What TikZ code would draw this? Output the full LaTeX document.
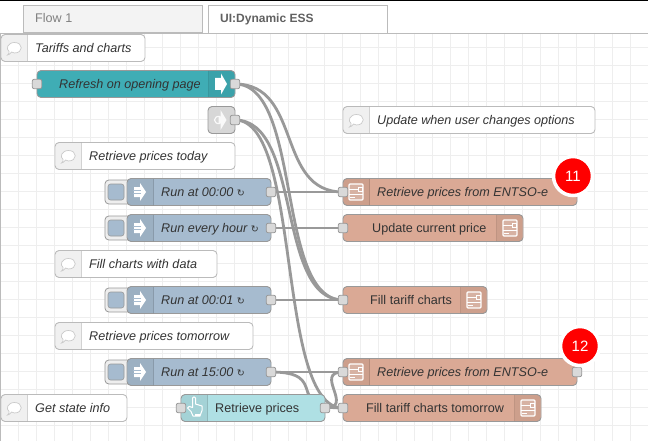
\documentclass[tikz,border=0pt]{standalone}
\usepackage{fontspec}
\setmainfont{Liberation Sans}
\newfontfamily\symfont{DejaVu Sans}
\usetikzlibrary{backgrounds,shadows}

\definecolor{gridgray}{HTML}{EEEEEE}
\definecolor{edgegray}{HTML}{BBBBBB}
\definecolor{wiregray}{HTML}{999999}
\definecolor{portgray}{HTML}{D9D9D9}
\definecolor{tealnode}{HTML}{3FADB5}
\definecolor{linknode}{HTML}{D7D7D7}
\definecolor{runnode}{HTML}{A6BBCF}
\definecolor{flownode}{HTML}{DAA995}
\definecolor{pressnode}{HTML}{AFE0E4}
\definecolor{labeltext}{HTML}{333333}

\tikzset{
    boxbase/.style={draw=#1, anchor=west, minimum height=27pt, inner sep=0pt, outer sep=0pt,
        rounded corners=4pt, line width=.9pt},
    notebox/.style={boxbase=edgegray, fill=white},
    tealbox/.style={boxbase=wiregray, fill=tealnode},
    linkbox/.style={boxbase=wiregray, fill=linknode},
    runbox/.style={boxbase=wiregray, fill=runnode},
    flowbox/.style={boxbase=wiregray, fill=flownode},
    pressbox/.style={boxbase=wiregray, fill=pressnode},
    tabbox/.style={draw=edgegray, anchor=north west, inner sep=0pt, outer sep=0pt, line width=.9pt},
    nametext/.style={anchor=west, inner sep=0pt, text=labeltext, text height=9pt, text depth=0pt,
        font=\fontsize{12.6}{14}\selectfont},
    tiptext/.style={nametext, font=\fontsize{12.6}{14}\selectfont\itshape},
    portbox/.style={draw=wiregray, fill=portgray, minimum size=9.5pt, inner sep=0pt, rounded corners=2pt, line width=.8pt},
    buttonbox/.style={draw=wiregray, fill=gridgray, anchor=west, minimum width=26pt, minimum height=24pt,
        inner sep=0pt, rounded corners=4pt, line width=.8pt},
    squarebox/.style={draw=wiregray, fill=runnode, minimum size=16pt, inner sep=0pt, rounded corners=2.5pt, line width=.6pt},
    wire/.style={draw=wiregray, line width=2.8pt},
    badge/.style={circle, fill=red, draw=white, line width=3.5pt, minimum size=39pt, inner sep=0pt, text=white,
        font=\fontsize{15}{15}\selectfont, drop shadow={shadow xshift=0pt, shadow yshift=-1pt, opacity=.25}},
    bubbleicon/.pic={
        \draw[draw=gridgray!85!black, fill=white, line width=.7pt] (-3,4) .. controls (-4,6) and (-6,7) .. (-7,7)
            .. controls (-5.5,6) and (-5.5,5) .. (-5.5,3.5) .. controls (-9,1) and (-7,-5.5) .. (0,-5.5)
            .. controls (9,-5.5) and (9,5) .. (0,5) .. controls (-1,5) and (-2,4.5) .. cycle;
    },
    pushicon/.pic={
        \fill[white] (-5,-6) -- (1,-6) -- (1,-10.5) -- (7,0) -- (1,10.5) -- (1,6) -- (-5,6) -- cycle;
    },
    runicon/.pic={
        \fill[white] (-6,-5) -- (0,-5) -- (0,-9) -- (6,0) -- (0,9) -- (0,5) -- (-6,5) -- cycle;
        \draw[runnode, line width=.9pt] (-7,-1.5) -- (1,-1.5) (-7,1.5) -- (1,1.5);
    },
    linkicon/.pic={
        \fill[white, opacity=.85] (-1,-3) -- (1,-3) -- (1,-10) -- (7,0) -- (1,10) -- (1,3) -- (-1,3) -- cycle;
        \draw[white, opacity=.85, line width=1.2pt] (1,-3.5) .. controls (-7,-5) and (-7,5) .. (1,3.5);
    },
    boxicon/.pic={
        \draw[white, line width=1.3pt, rounded corners=1pt] (-7,-8) rectangle (7,8);
        \fill[white, opacity=.2] (-7,-8) rectangle (7,8);
        \draw[white, line width=1pt] (-7,2.5) -- (7,2.5) (-7,-2.5) -- (2,-2.5) (2,-4.5) -- (6,-4.5) -- (6,-.5) -- (2,-.5) -- cycle
            (-6,5.5) -- (-1,5.5);
    },
    handicon/.pic={
        \draw[white, line width=1pt, line join=round] (-2.5,-.5) -- (-2.5,-10) .. controls (-2,-11.5) and (0,-11.5) .. (.5,-10)
            -- (.5,-4) -- (7,-2) -- (7,2.5) -- (5,8) -- (-2,8) -- (-4,3.5) -- (-7.5,0) .. controls (-7,-2) and (-5,-2) .. cycle;
        \fill[white] (0,5.5) rectangle (5,8);
    }
}

% shaded part of a box, as wide as the icon
\newcommand{\iconleft}[2]{
    \begin{scope}
        \clip[rounded corners=3.5pt] ([shift={(.5,.5)}]#1.north west) rectangle ([shift={(-.5,-.5)}]#1.south east);
        \fill[black, opacity=.06] (#1.north west) rectangle ([xshift=#2]#1.south west);
        \draw[black, opacity=.12, line width=.8pt] ([xshift=#2]#1.north west) -- ([xshift=#2]#1.south west);
    \end{scope}
}
\newcommand{\iconright}[2]{
    \begin{scope}
        \clip[rounded corners=3.5pt] ([shift={(.5,.5)}]#1.north west) rectangle ([shift={(-.5,-.5)}]#1.south east);
        \fill[black, opacity=.06] (#1.north east) rectangle ([xshift=-#2]#1.south east);
        \draw[black, opacity=.12, line width=.8pt] ([xshift=-#2]#1.north east) -- ([xshift=-#2]#1.south east);
    \end{scope}
}
\newcommand{\reload}{{\upshape\symfont\fontsize{9.5}{9.5}\selectfont ↻}}

\begin{document}
\begin{tikzpicture}[x=1pt, y=-1pt]
        \useasboundingbox (0,0) rectangle (648,441);

        % Tabs along the top
        \node[tabbox, fill=gridgray!70!white, minimum width=179pt, minimum height=27pt] (tab-flow) at (23.5,5.5) {};
        \node[nametext, text=black!50] (tab-flow-text) at (35,18) {Flow 1};
        \node[tabbox, fill=white, minimum width=179pt, minimum height=28pt] (tab-ess) at (208.5,5.5) {};
        \node[nametext, text=black!62, font=\fontsize{12}{14}\selectfont\bfseries] (tab-ess-text) at (220,18) {UI:Dynamic ESS};

        % Comment boxes
        \foreach \name/\xa/\yy/\xb/\txt in {
            note-tariffs/1/48/145/Tariffs and charts,
            note-today/55/156/235/Retrieve prices today,
            note-fill/55/264/217/Fill charts with data,
            note-tomorrow/55/336/253/Retrieve prices tomorrow,
            note-state/1/408/127/Get state info,
            note-update/343/120/595/Update when user changes options}{
            \node[notebox, minimum width=\xb-\xa] (\name) at (\xa,\yy) {};
            \iconleft{\name}{26.5pt}
            \pic at ([xshift=13.5pt]\name.west) {bubbleicon};
            \node[tiptext] (\name-text) at ([xshift=34pt]\name.west) {\txt};
        }

        % Refresh and link nodes
        \node[tealbox, minimum width=198pt] (refresh) at (37,84) {};
        \iconright{refresh}{26.5pt}
        \pic at (220,84) {pushicon};
        \node[tiptext] (refresh-text) at (59,84) {Refresh on opening page};
        \node[portbox] (refresh-in) at (refresh.west) {};
        \node[portbox] (refresh-out) at (refresh.east) {};

        \node[linkbox, minimum width=27pt] (link) at (208,120) {};
        \pic at (219.5,120) {linkicon};
        \node[portbox] (link-out) at (link.east) {};

        % Timed nodes with their buttons
        \foreach \name/\yy/\txt in {
            run-midnight/192/Run at 00:00 \reload,
            run-hourly/228/Run every hour \reload,
            run-charts/300/Run at 00:01 \reload,
            run-late/372/Run at 15:00 \reload}{
            \node[buttonbox] (\name-button) at (104.5,\yy) {};
            \node[squarebox] (\name-square) at (116,\yy) {};
            \node[runbox, minimum width=144pt] (\name) at (127,\yy) {};
            \iconleft{\name}{26.5pt}
            \pic at (140,\yy) {runicon};
            \node[tiptext] (\name-text) at (161,\yy) {\txt};
            \node[portbox] (\name-out) at (\name.east) {};
        }

        % Press button node
        \node[pressbox, minimum width=144pt] (press) at (181,408) {};
        \iconleft{press}{26.5pt}
        \pic at (195,408) {handicon};
        \node[nametext] (press-text) at (215,408) {Retrieve prices};
        \node[portbox] (press-in) at (press.west) {};
        \node[portbox] (press-out) at (press.east) {};

        % Subflow nodes, icon on the left
        \foreach \name/\yy in {entso-today/192, entso-tomorrow/372}{
            \node[flowbox, minimum width=234pt] (\name) at (343,\yy) {};
            \iconleft{\name}{26.5pt}
            \pic at (356,\yy) {boxicon};
            \node[tiptext] (\name-text) at (377,\yy) {Retrieve prices from ENTSO-e};
            \node[portbox] (\name-in) at (\name.west) {};
        }
        \node[portbox] (entso-tomorrow-out) at (entso-tomorrow.east) {};

        % Subflow nodes, icon on the right
        \foreach \name/\yy/\xb/\xt/\txt in {
            update-price/228/523/372/Update current price,
            tariff-today/300/487/370/Fill tariff charts,
            tariff-tomorrow/408/541/366/Fill tariff charts tomorrow}{
            \node[flowbox, minimum width=\xb-343] (\name) at (343,\yy) {};
            \iconright{\name}{26.5pt}
            \pic at ({\xb-13},\yy) {boxicon};
            \node[nametext] (\name-text) at (\xt,\yy) {\txt};
            \node[portbox] (\name-in) at (\name.west) {};
        }

        % Update badges
        \node[badge] (badge-today) at (573,176) {11};
        \node[badge] (badge-tomorrow) at (580,346) {12};

        % Grid and wires go under the nodes
        \begin{scope}[on background layer]
            \fill[white] (0,0) rectangle (648,441);
            \foreach \i in {1,...,35}{
                \draw[gridgray, line width=.9pt] ({\i*18},33) -- ({\i*18},441);
            }
            \foreach \j in {1,...,22}{
                \draw[gridgray, line width=.9pt] (0,{29+\j*18}) -- (648,{29+\j*18});
            }
            \draw[edgegray, line width=.9pt] (0,33) -- (648,33);
            \draw[edgegray, line width=1.2pt] (.5,33) -- (.5,441);
            \draw[black, line width=1.5pt] (0,.5) -- (648,.5);

            \foreach \from/\to/\bend in {
                refresh-out/entso-today-in/67.5,
                refresh-out/tariff-today-in/67.5,
                link-out/tariff-today-in/67.5,
                link-out/tariff-tomorrow-in/67.5,
                run-midnight-out/entso-today-in/67.5,
                run-hourly-out/update-price-in/67.5,
                run-charts-out/tariff-today-in/67.5,
                run-late-out/entso-tomorrow-in/67.5,
                run-late-out/tariff-tomorrow-in/60,
                press-out/tariff-tomorrow-in/13.5,
                press-out/entso-tomorrow-in/30}{
                \draw[wire] (\from.center) .. controls +(\bend,0) and +(-\bend,0) .. (\to.center);
            }
        \end{scope}
\end{tikzpicture}
\end{document}
